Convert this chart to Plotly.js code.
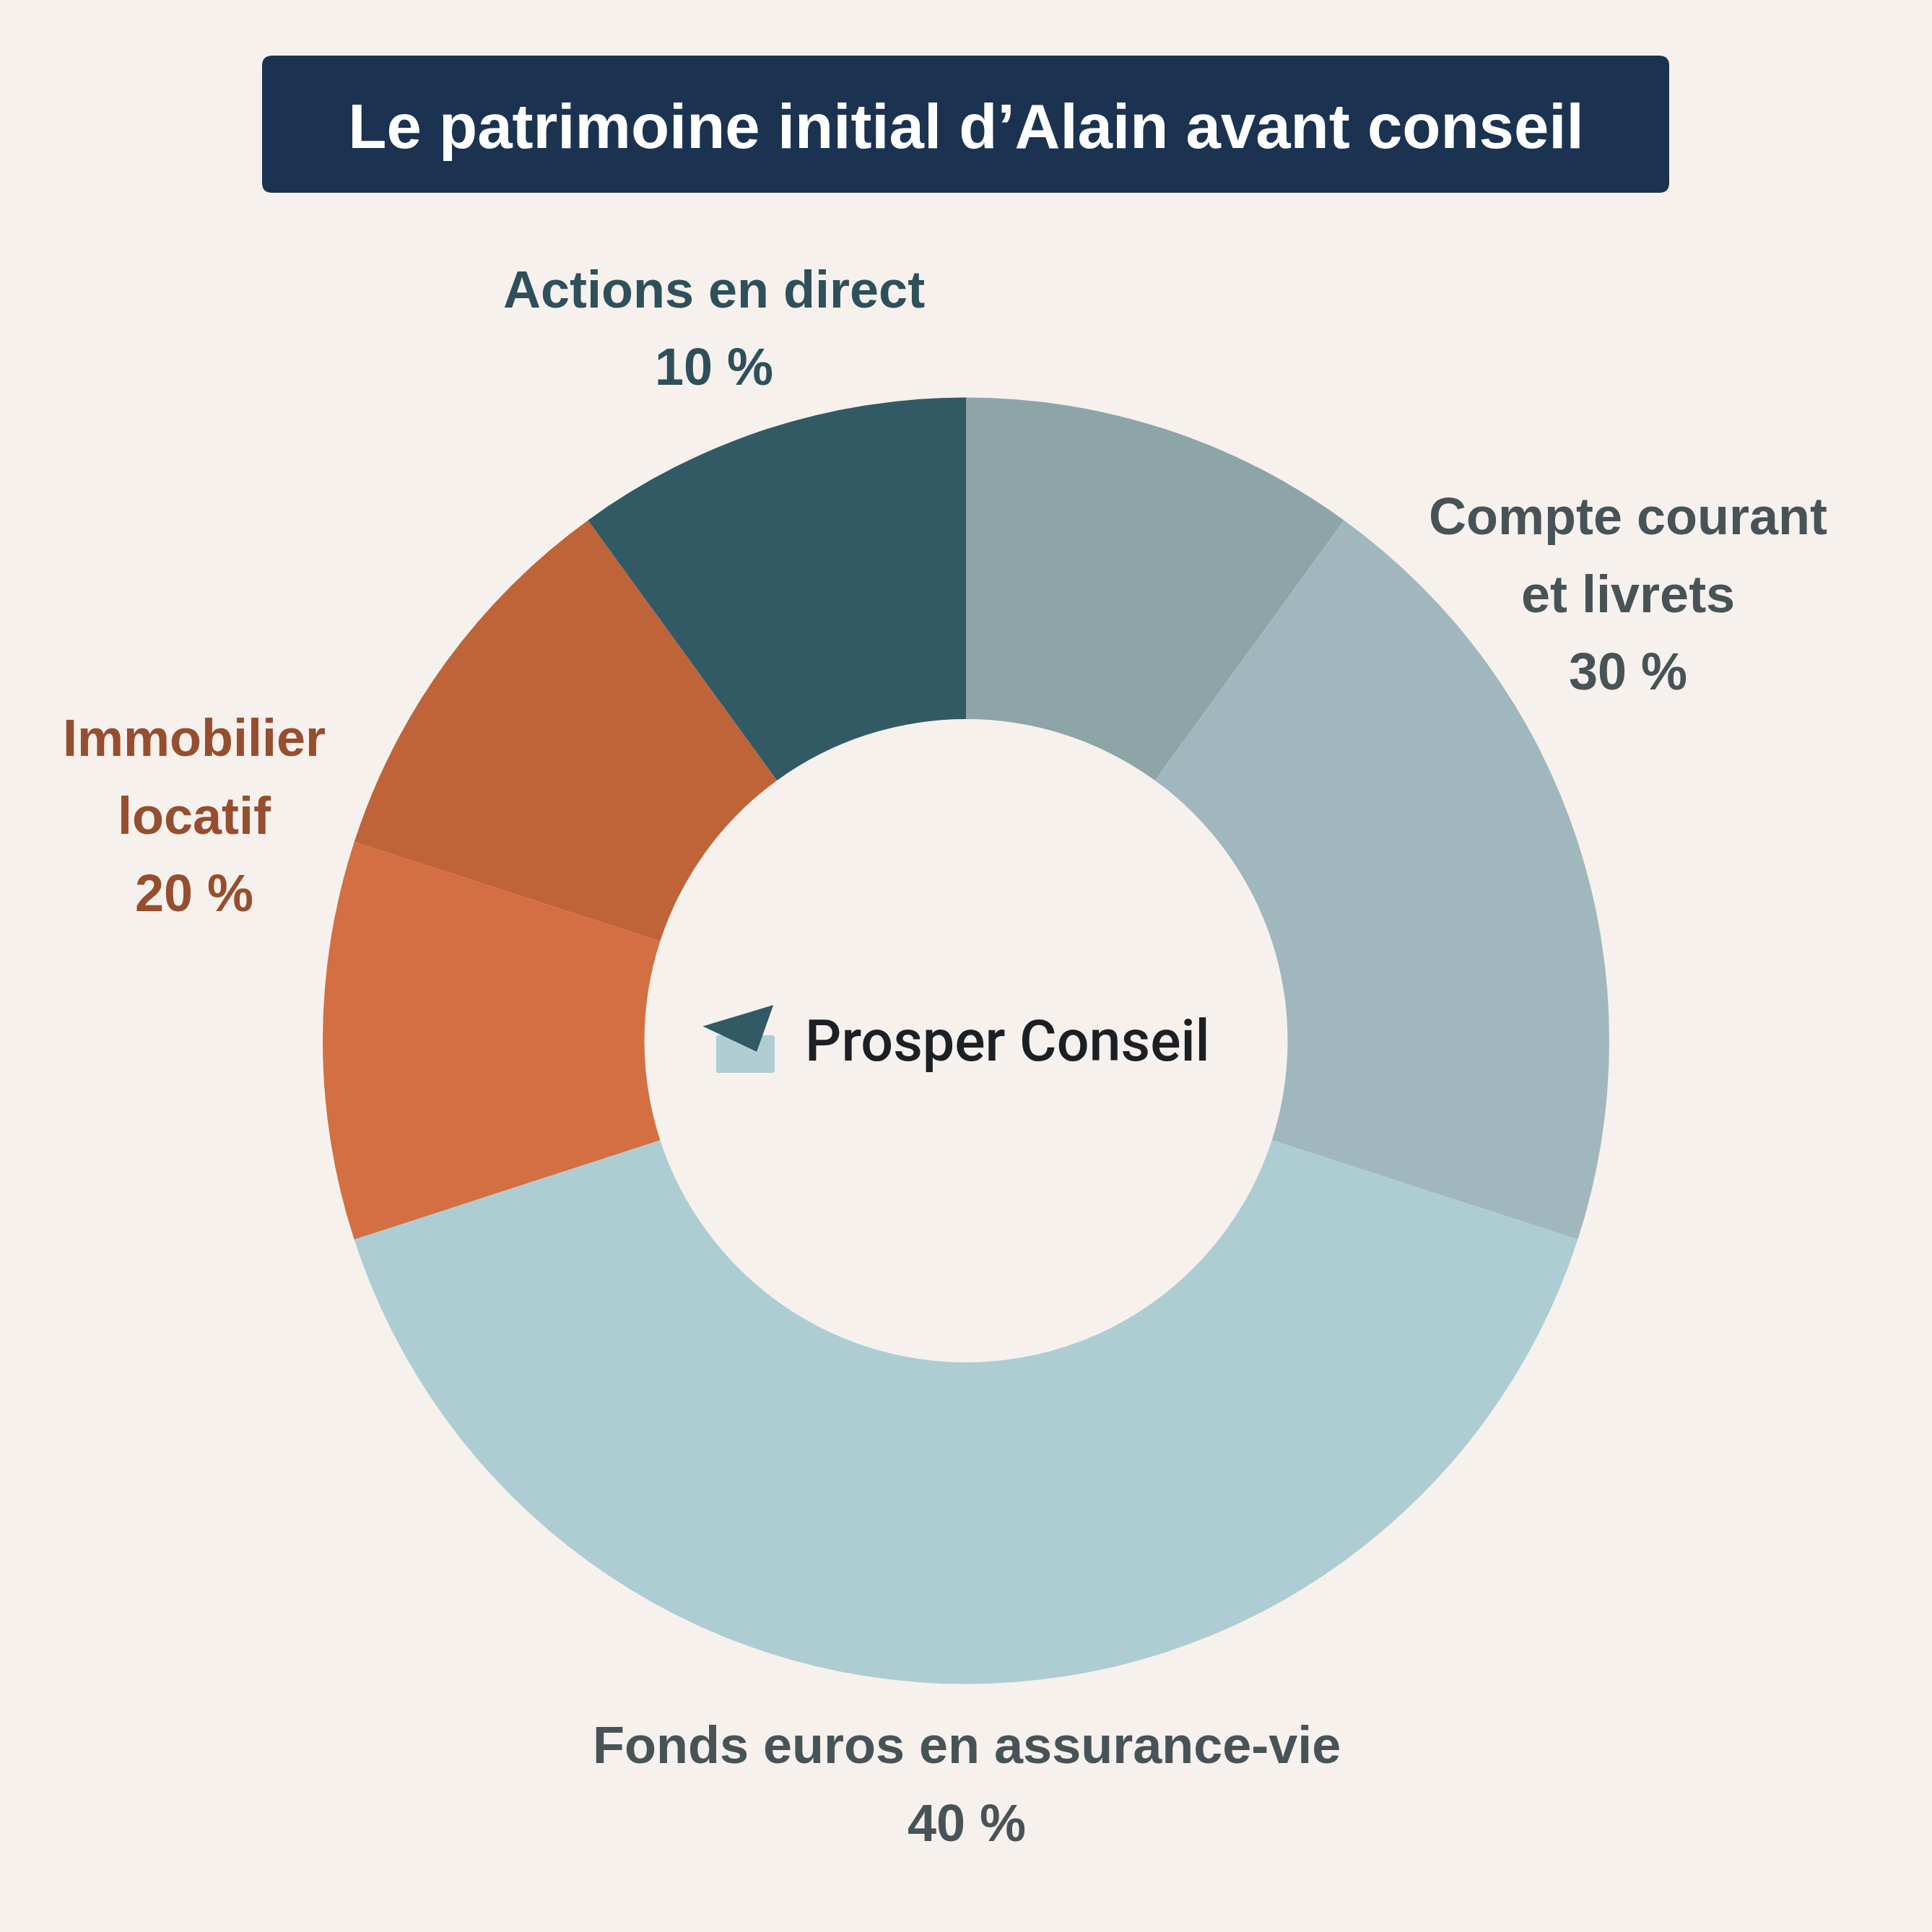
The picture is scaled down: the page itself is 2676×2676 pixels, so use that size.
<!DOCTYPE html>
<html>
<head>
<meta charset="utf-8">
<script src="https://cdn.plot.ly/plotly-3.0.1.min.js"></script>
<style>
  html, body { margin: 0; padding: 0; background: #f6f1ed; }
  #chart { width: 2676px; height: 2676px; }
</style>
</head>
<body>
<div id="chart"></div>
<script>
// ---------- DATA ----------
const titleText = "Le patrimoine initial d’Alain avant conseil";
const brandText = "Prosper Conseil";

// ring segments, clockwise from 12 o'clock
const segmentLabels = ["Compte courant", "Livrets", "Fonds euros en assurance-vie",
                       "Immobilier locatif (partie 1)", "Immobilier locatif (partie 2)", "Actions en direct"];
const segmentValues = [10, 20, 40, 10, 10, 10];
const segmentColors = ["#8ea5a8", "#a0b8bd", "#aecdd3", "#d36f42", "#bf6439", "#325a64"];

// category labels shown around the ring
const groupLines = [
  ["Actions en direct"],
  ["Compte courant", "et livrets"],
  ["Immobilier", "locatif"],
  ["Fonds euros en assurance-vie"]
];
const groupShares = [10, 30, 20, 40];

// ---------- LAYOUT HELPERS ----------
const W = 2676, H = 2676;
const px = x => x / W;
const py = y => 1 - y / H;

const groupStyle = [
  { x: 989,  firstMid: 401,  color: "#2e505a" },
  { x: 2255, firstMid: 715,  color: "#475357" },
  { x: 269,  firstMid: 1022, color: "#964e2e" },
  { x: 1339, firstMid: 2417, color: "#475357" }
];
const lineStep = 107.5;

const annotations = [];
groupLines.forEach((lines, gi) => {
  const st = groupStyle[gi];
  const all = lines.concat([groupShares[gi] + " %"]);
  all.forEach((t, li) => {
    annotations.push({
      text: t, xref: "paper", yref: "paper",
      x: px(st.x), y: py(st.firstMid + li * lineStep),
      xanchor: "center", yanchor: "middle", showarrow: false,
      font: { family: "Liberation Sans, Arial, sans-serif", size: 72, color: st.color, weight: 700 }
    });
  });
});

annotations.push({
  text: brandText, xref: "paper", yref: "paper",
  x: px(1113), y: py(1442), xanchor: "left", yanchor: "middle", showarrow: false,
  font: { family: "Roboto, sans-serif", size: 79, color: "#1c2024", weight: 500 }
});

// rounded rectangle path in paper coords
function roundRect(x0, y0, x1, y1, r) {
  const P = (x, y) => px(x) + "," + py(y);
  return "M" + P(x0 + r, y0) + " L" + P(x1 - r, y0) + " Q" + P(x1, y0) + " " + P(x1, y0 + r) +
         " L" + P(x1, y1 - r) + " Q" + P(x1, y1) + " " + P(x1 - r, y1) +
         " L" + P(x0 + r, y1) + " Q" + P(x0, y1) + " " + P(x0, y1 - r) +
         " L" + P(x0, y0 + r) + " Q" + P(x0, y0) + " " + P(x0 + r, y0) + " Z";
}
function poly(pts) {
  return "M" + pts.map(p => px(p[0]) + "," + py(p[1])).join(" L") + " Z";
}

const shapes = [
  { type: "path", xref: "paper", yref: "paper", path: roundRect(363, 77, 2312, 267, 14),
    fillcolor: "#1b3350", line: { width: 0 }, layer: "below" },
  { type: "path", xref: "paper", yref: "paper", path: roundRect(992, 1434, 1073, 1486, 3),
    fillcolor: "#afcdd3", line: { width: 0 } },
  { type: "path", xref: "paper", yref: "paper",
    path: poly([[979, 1422], [1068, 1395], [1047, 1454]]),
    fillcolor: "#325a64", line: { width: 4, color: "#325a64" } }
];

const cx = 1338, cy = 1441.5, R = 891;
const trace = {
  type: "pie",
  labels: segmentLabels,
  values: segmentValues,
  marker: { colors: segmentColors, line: { width: 0 } },
  hole: 0.5,
  sort: false,
  direction: "clockwise",
  rotation: 0,
  textinfo: "none",
  hoverinfo: "none",
  showlegend: false,
  domain: { x: [px(cx - R), px(cx + R)], y: [py(cy + R), py(cy - R)] }
};

const layout = {
  width: W, height: H,
  margin: { l: 0, r: 0, t: 0, b: 0 },
  paper_bgcolor: "#f6f1ed",
  plot_bgcolor: "#f6f1ed",
  title: {
    text: titleText,
    x: 0.5, xanchor: "center", xref: "paper",
    y: py(175), yanchor: "middle", yref: "container",
    font: { family: "Liberation Sans, Arial, sans-serif", size: 87, color: "#ffffff", weight: 700 }
  },
  annotations: annotations,
  shapes: shapes,
  showlegend: false
};

Plotly.newPlot("chart", [trace], layout, { staticPlot: true });
</script>
</body>
</html>
